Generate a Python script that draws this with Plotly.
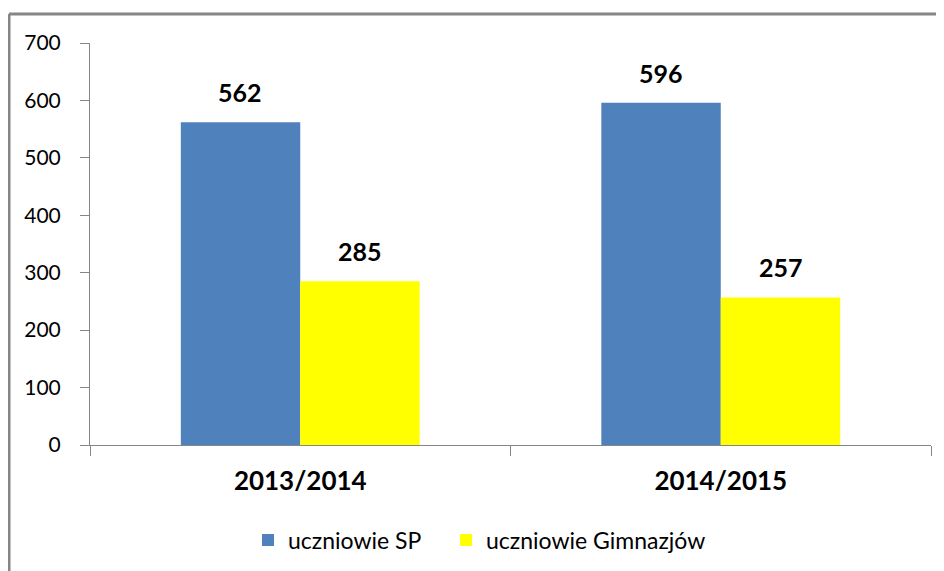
import plotly.graph_objects as go

categories = ["2013/2014", "2014/2015"]
series_names = ["uczniowie SP", "uczniowie Gimnazjów"]
sp_values = [562, 596]
gim_values = [285, 257]
y_ticks = [0, 100, 200, 300, 400, 500, 600, 700]

colors = ["#4F81BD", "#FFFF00"]
FONT = "Lato, 'Open Sans', sans-serif"

fig = go.Figure()
for k, (name, vals, col) in enumerate(zip(series_names, [sp_values, gim_values], colors)):
    fig.add_trace(go.Bar(x=categories, y=vals, name=name, marker=dict(color=col, line=dict(width=0)),
                         hoverinfo="skip", legend=("legend" if k == 0 else "legend2")))

# value labels above bars
for i, (name, vals) in enumerate(zip(series_names, [sp_values, gim_values])):
    for c, v in zip(categories, vals):
        fig.add_annotation(x=c, y=v, text=f"<b>{v}</b>", showarrow=False, yanchor="middle",
                           yshift=30, xshift=(-60 if i == 0 else 60),
                           font=dict(family=FONT, size=25, color="#000000"))

# page body has an 8px margin; work in reference pixels and subtract it
OFF = 8
W, H = 944 - OFF, 571 - OFF
L, T = 90 - OFF, 43 - OFF
pw, ph = 841, 402
R = W - L - pw
B = H - T - ph

def px2x(px):
    return (px - OFF - L) / pw

def py2y(py):
    return (H - B - (py - OFF)) / ph

border = "#868686"
fig.add_shape(type="line", xref="paper", yref="paper", x0=px2x(9), x1=px2x(960), y0=py2y(14), y1=py2y(14),
              line=dict(color=border, width=3))
fig.add_shape(type="line", xref="paper", yref="paper", x0=px2x(9), x1=px2x(9), y0=py2y(14), y1=py2y(590),
              line=dict(color=border, width=3))

legend_common = dict(orientation="h", xref="container", yref="container", y=1 - (540 - OFF) / H,
                     xanchor="left", yanchor="middle", bgcolor="rgba(0,0,0,0)",
                     font=dict(family=FONT, size=23, color="#000000"), itemwidth=30)

fig.update_layout(
    width=W, height=H,
    margin=dict(l=L, r=R, t=T, b=B, autoexpand=False),
    paper_bgcolor="#FFFFFF", plot_bgcolor="#FFFFFF",
    barmode="group", bargap=0.432, bargroupgap=0,
    font=dict(family=FONT, color="#000000"),
    showlegend=True,
    legend=dict(x=(248 - OFF) / W, **legend_common),
    legend2=dict(x=(446 - OFF) / W, **legend_common),
    xaxis=dict(type="category", showline=True, linecolor=border, linewidth=1, ticks="outside",
               tickson="boundaries", ticklen=10, tickcolor=border, tickwidth=1, automargin=False,
               showgrid=False, zeroline=False, tickfont=dict(family=FONT, size=26, color="#000000"),
               tickprefix="<b>", ticksuffix="</b>", ticklabelstandoff=13),
    yaxis=dict(range=[0, 700], tickvals=y_ticks, showline=True, linecolor=border, linewidth=1,
               ticks="outside", ticklen=9, tickcolor=border, tickwidth=1, showgrid=False, zeroline=False,
               automargin=False,
               tickfont=dict(family=FONT, size=21, color="#000000"), ticklabelstandoff=15),
)

fig.write_html("out.html")
